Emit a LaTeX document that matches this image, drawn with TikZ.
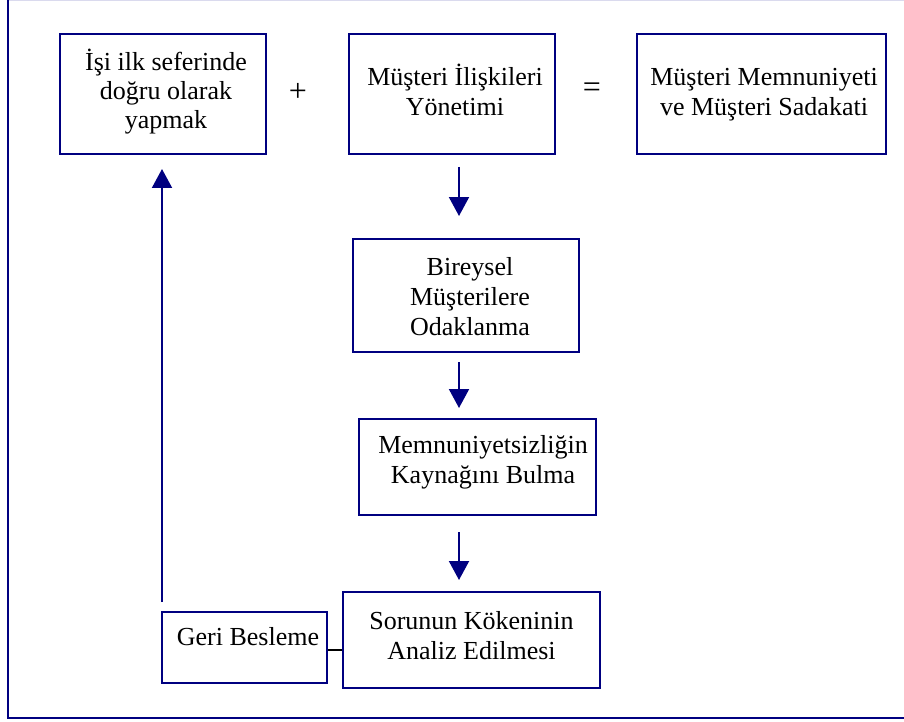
\documentclass[tikz,border=0pt]{standalone}
\usepackage{fontspec}
\setmainfont{Liberation Serif}
\usetikzlibrary{arrows.meta}
\definecolor{navyb}{RGB}{0,0,128}
\definecolor{framelight}{RGB}{218,218,238}
\begin{document}
\begin{tikzpicture}[x=1pt,y=-1pt,
  box/.style={draw=navyb,line width=2pt,inner sep=0pt},
  txt/.style={font=\fontsize{26}{30}\selectfont,align=center,inner sep=0pt,anchor=base},
  sym/.style={font=\fontsize{32}{32}\selectfont,inner sep=0pt},
  arr/.style={draw=navyb,line width=2pt,-{Triangle[width=20pt,length=19pt]}},
  link/.style={draw=black,line width=1.5pt}]
\useasboundingbox (0,0) rectangle (904,722);
% outer frame
\draw[framelight,line width=1pt] (7,0.5) -- (904,0.5);
\draw[navyb,line width=2pt] (7.5,0) -- (7.5,718) -- (904,718);
% boxes
\node[box,minimum width=206pt,minimum height=120pt] (b1) at (163,94) {};
\node[box,minimum width=206pt,minimum height=120pt] (b2) at (452,94) {};
\node[box,minimum width=249pt,minimum height=120pt] (b3) at (761.5,94) {};
\node[box,minimum width=226pt,minimum height=113pt] (b4) at (466,295.5) {};
\node[box,minimum width=237pt,minimum height=96pt] (b5) at (477.5,467) {};
\node[box,minimum width=257pt,minimum height=96pt] (b6) at (471.5,640) {};
\node[box,minimum width=165pt,minimum height=71pt] (b7) at (244.5,647.5) {};
% texts (anchored at the baseline of their last line)
\node[txt,font=\fontsize{26}{29}\selectfont] (t1) at (166,129) {İşi ilk seferinde\\doğru olarak\\yapmak};
\node[txt] (t2) at (455,116) {Müşteri İlişkileri\\Yönetimi};
\node[txt] (t3) at (764,116) {Müşteri Memnuniyeti\\ve Müşteri Sadakati};
\node[txt] (t4) at (470,335) {Bireysel\\Müşterilere\\Odaklanma};
\node[txt] (t5) at (483,483) {Memnuniyetsizliğin\\Kaynağını Bulma};
\node[txt] (t6) at (471.5,659) {Sorunun Kökeninin\\Analiz Edilmesi};
\node[txt] (t7) at (248,645) {Geri Besleme};
% symbols
\node[sym] (plus) at (298,92) {+};
\node[sym] (eq) at (592,90) {=};
% arrows
\coordinate (a1s) at (459,167);
\coordinate (a1e) at (459,216);
\coordinate (a2s) at (459,362);
\coordinate (a2e) at (459,408);
\coordinate (a3s) at (459,532);
\coordinate (a3e) at (459,580);
\coordinate (fbs) at (162,602);
\coordinate (fbe) at (162,169);
\draw[arr] (a1s) -- (a1e);
\draw[arr] (a2s) -- (a2e);
\draw[arr] (a3s) -- (a3e);
\draw[arr] (fbs) -- (fbe);
\coordinate (lk) at (b7.east |- 0,650);
\draw[link] (lk) -- (lk -| b6.west);
\end{tikzpicture}
\end{document}
